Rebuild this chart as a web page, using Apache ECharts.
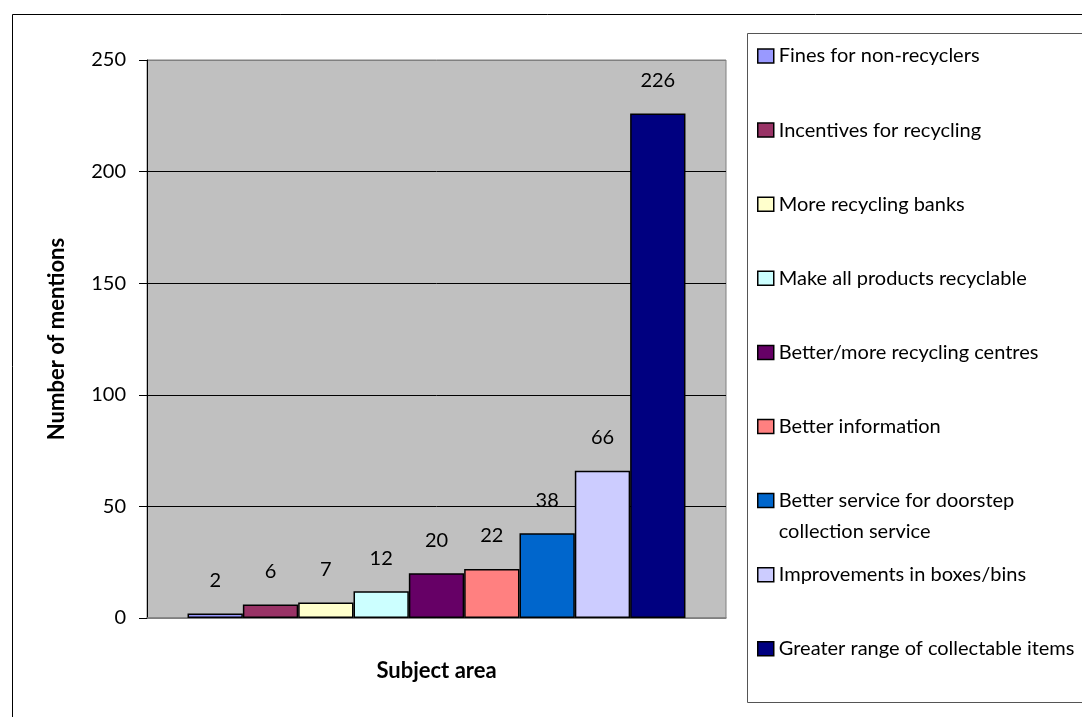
<!DOCTYPE html>
<html>
<head>
<meta charset="utf-8">
<style>
  html, body { margin: 0; padding: 0; background: #fff; }
  #chart { width: 1082px; height: 717px; }
</style>
<script src="https://cdn.jsdelivr.net/npm/echarts@6/dist/echarts.min.js"></script>
</head>
<body>
<div id="chart"></div>
<script>
// Suggestions for improving recycling, by number of mentions
const subjects = [
  'Fines for non-recyclers',
  'Incentives for recycling',
  'More recycling banks',
  'Make all products recyclable',
  'Better/more recycling centres',
  'Better information',
  'Better service for doorstep\ncollection service',
  'Improvements in boxes/bins',
  'Greater range of collectable items'
];
const mentions = [2, 6, 7, 12, 20, 22, 38, 66, 226];
const barColors = ['#9999FF', '#993366', '#FFFFCC', '#CCFFFF', '#660066',
                   '#FF8080', '#0066CC', '#CCCCFF', '#000080'];
const yTicks = { min: 0, max: 250, step: 50 };

const FONT = 'Lato, "Open Sans", sans-serif';
const chart = echarts.init(document.getElementById('chart'));

const series = subjects.map((name, i) => ({
  name: name,
  type: 'bar',
  data: [mentions[i]],
  barGap: '0%',
  barCategoryGap: '14%',
  itemStyle: { color: barColors[i], borderColor: '#000', borderWidth: 1.5 },
  label: {
    show: true, position: 'top', distance: 23,
    color: '#000', fontFamily: FONT, fontSize: 20
  }
}));

// one legend block per entry so every row keeps the same pitch;
// a wrapped entry gets a blank line on top so its swatch sits beside the first line
const legends = subjects.map((name, i) => {
  const cy = 56 + 74.1 * i;
  const multi = name.indexOf('\n') >= 0;
  return {
    data: [name],
    orient: 'vertical',
    left: 757,
    top: multi ? cy - 46.5 : cy - 15.5,
    padding: 0,
    itemWidth: 16,
    itemHeight: 14,
    icon: 'rect',
    selectedMode: false,
    formatter: multi ? (n => '\u00a0\n' + n) : '{name}',
    itemStyle: { borderColor: '#000', borderWidth: 1.5 },
    textStyle: {
      color: '#000', fontFamily: FONT, fontSize: 20, lineHeight: 31
    }
  };
});

chart.setOption({
  animation: false,
  textStyle: { fontFamily: FONT },
  graphic: [
    { type: 'rect', left: 10, top: 12, z: -10,
      shape: { width: 1200, height: 800 },
      style: { fill: 'none', stroke: '#000', lineWidth: 1 } },
    { type: 'rect', left: 747, top: 33, z: -9,
      shape: { width: 400, height: 669 },
      style: { fill: '#fff', stroke: '#555', lineWidth: 1 } }
  ],
  grid: {
    left: 147, top: 60, right: 356, bottom: 99,
    show: true, backgroundColor: '#C0C0C0', borderColor: '#808080', borderWidth: 1
  },
  legend: legends,
  xAxis: {
    type: 'category',
    data: [''],
    name: 'Subject area',
    nameLocation: 'middle',
    nameGap: 42,
    nameTextStyle: { color: '#000', fontFamily: FONT, fontSize: 22, fontWeight: 'bold' },
    axisLine: { lineStyle: { color: '#808080', width: 1.5 } },
    axisTick: { show: false },
    axisLabel: { show: false }
  },
  yAxis: {
    type: 'value',
    min: yTicks.min, max: yTicks.max, interval: yTicks.step,
    name: 'Number of mentions',
    nameLocation: 'middle',
    nameGap: 79,
    nameTextStyle: { color: '#000', fontFamily: FONT, fontSize: 22, fontWeight: 'bold' },
    axisLine: { show: true, lineStyle: { color: '#000', width: 1 } },
    axisTick: { show: true, length: 8, lineStyle: { color: '#000' } },
    axisLabel: { color: '#000', fontFamily: FONT, fontSize: 20, margin: 21 },
    splitLine: {
      show: true,
      lineStyle: { color: ['#808080', '#000', '#000', '#000', '#000', '#808080'], width: 1 }
    }
  },
  series: series
});
</script>
</body>
</html>
